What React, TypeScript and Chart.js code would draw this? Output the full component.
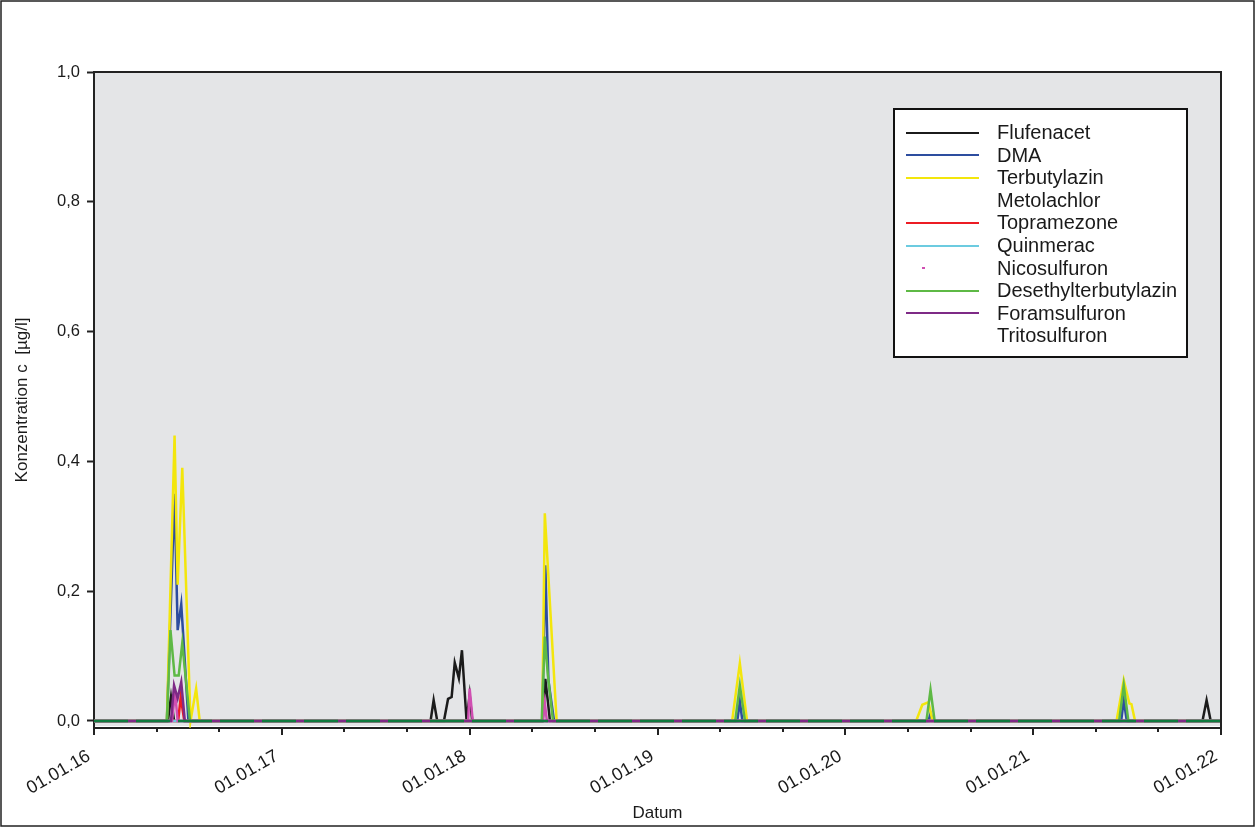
import React, { useEffect, useRef } from "react";
import { Chart, registerables } from "chart.js";

Chart.register(...registerables);

// ---------- data ----------
const xTickYears = [2016, 2017, 2018, 2019, 2020, 2021, 2022];
const xTickLabels = ["01.01.16", "01.01.17", "01.01.18", "01.01.19", "01.01.20", "01.01.21", "01.01.22"];
const yTickValues = [0, 0.2, 0.4, 0.6, 0.8, 1.0];

const flufenacetDates = ["2016-01-01", "2016-05-24", "2016-05-30", "2016-06-05", "2017-10-17", "2017-10-23", "2017-10-30", "2017-11-12", "2017-11-20", "2017-11-27", "2017-12-03", "2017-12-11", "2017-12-17", "2017-12-26", "2018-01-01", "2018-01-06", "2018-05-23", "2018-05-28", "2018-06-02", "2018-06-06", "2021-11-26", "2021-12-04", "2021-12-12", "2022-01-01"];
const flufenacetValues = [0, 0, 0.037, 0, 0, 0.032, 0, 0, 0.034, 0.037, 0.09, 0.066, 0.109, 0, 0.04, 0, 0, 0.065, 0.03, 0, 0, 0.032, 0, 0];

const dmaDates = ["2016-01-01", "2016-05-22", "2016-06-06", "2016-06-12", "2016-06-19", "2016-06-23", "2016-07-03", "2018-05-22", "2018-05-28", "2018-06-03", "2018-06-06", "2018-06-14", "2019-06-05", "2019-06-10", "2019-06-15", "2020-06-11", "2020-06-15", "2020-06-19", "2021-06-21", "2021-06-26", "2021-07-02", "2022-01-01"];
const dmaValues = [0, 0, 0.35, 0.14, 0.18, 0.13, 0, 0, 0.24, 0.063, 0.045, 0, 0, 0.03, 0, 0, 0.012, 0, 0, 0.032, 0, 0];

const terbutylazinDates = ["2016-01-01", "2016-05-22", "2016-06-06", "2016-06-12", "2016-06-21", "2016-07-07", "2016-07-18", "2016-07-25", "2018-05-22", "2018-05-27", "2018-06-19", "2019-05-26", "2019-06-10", "2019-06-24", "2020-05-18", "2020-05-30", "2020-06-11", "2020-06-19", "2021-06-12", "2021-06-26", "2021-07-07", "2021-07-11", "2021-07-18", "2022-01-01"];
const terbutylazinValues = [0, 0, 0.44, 0.21, 0.39, 0, 0.05, 0, 0, 0.32, 0, 0, 0.089, 0, 0, 0.025, 0.029, 0, 0, 0.063, 0.027, 0.026, 0, 0];

const metolachlorDates = ["2016-01-01", "2022-01-01"];
const metolachlorValues = [0, 0];

const topramezoneDates = ["2016-01-01", "2016-06-13", "2016-06-18", "2016-06-25", "2022-01-01"];
const topramezoneValues = [0, 0, 0.037, 0, 0];

const quinmeracDates = ["2016-01-01", "2022-01-01"];
const quinmeracValues = [0, 0];

const nicosulfuronDates = ["2016-01-01", "2016-06-01", "2016-06-07", "2016-06-12", "2017-12-29", "2018-01-01", "2018-01-07", "2018-05-23", "2018-05-27", "2018-05-31", "2022-01-01"];
const nicosulfuronValues = [0, 0, 0.045, 0, 0, 0.05, 0, 0, 0.028, 0, 0];

const desethylDates = ["2016-01-01", "2016-05-22", "2016-05-29", "2016-06-06", "2016-06-14", "2016-06-21", "2016-07-06", "2018-05-21", "2018-05-27", "2018-06-02", "2018-06-12", "2019-06-01", "2019-06-10", "2019-06-20", "2020-06-07", "2020-06-15", "2020-06-23", "2021-06-17", "2021-06-26", "2021-07-05", "2022-01-01"];
const desethylValues = [0, 0, 0.14, 0.07, 0.07, 0.12, 0, 0, 0.13, 0.07, 0, 0, 0.055, 0, 0, 0.048, 0, 0, 0.055, 0, 0];

const foramsulfuronDates = ["2016-01-01", "2016-05-30", "2016-06-05", "2016-06-12", "2016-06-19", "2016-06-26", "2022-01-01"];
const foramsulfuronValues = [0, 0, 0.055, 0.035, 0.06, 0, 0];

const tritosulfuronDates = ["2016-01-01", "2022-01-01"];
const tritosulfuronValues = [0, 0];

const seriesNames = ["Flufenacet", "DMA", "Terbutylazin", "Metolachlor", "Topramezone", "Quinmerac", "Nicosulfuron", "Desethylterbutylazin", "Foramsulfuron", "Tritosulfuron"];
const seriesColors = ["#1b1b1b", "#2d4d9f", "#f3e60c", "#ffffff", "#ec1c24", "#6ccbe0", "#d04fb2", "#5eb945", "#7e2a86", "#0f7a3e"];
const seriesDates = [flufenacetDates, dmaDates, terbutylazinDates, metolachlorDates, topramezoneDates, quinmeracDates, nicosulfuronDates, desethylDates, foramsulfuronDates, tritosulfuronDates];
const seriesValues = [flufenacetValues, dmaValues, terbutylazinValues, metolachlorValues, topramezoneValues, quinmeracValues, nicosulfuronValues, desethylValues, foramsulfuronValues, tritosulfuronValues];
const legendSymbols = ["line", "line", "line", "none", "line", "line", "dot", "line", "line", "none"];

// ---------- helpers ----------
function toYear(d: string): number {
  const [y, m, day] = d.split("-").map(Number);
  const start = Date.UTC(y, 0, 1);
  const end = Date.UTC(y + 1, 0, 1);
  return y + (Date.UTC(y, m - 1, day) - start) / (end - start);
}

const FONT = "'Liberation Sans', Arial, sans-serif";

export default function App() {
  const ref = useRef<HTMLCanvasElement | null>(null);

  useEffect(() => {
    document.body.style.margin = "0";
    const canvas = ref.current;
    if (!canvas) return;

    const datasets = seriesNames.map((name, i) => ({
      label: name,
      data: seriesDates[i].map((d, j) => ({ x: toYear(d), y: seriesValues[i][j] })),
      borderColor: seriesColors[i],
      backgroundColor: seriesColors[i],
      borderWidth: 2.5,
      pointRadius: 0,
      tension: 0,
      fill: false,
      order: seriesNames.length - 1 - i,
      borderDash: name === "Tritosulfuron" ? [34, 8] : [],
    }));

    const bgPlugin = {
      id: "bg",
      beforeDraw(chart: any) {
        const { ctx, chartArea } = chart;
        ctx.save();
        ctx.fillStyle = "#ffffff";
        ctx.fillRect(0, 0, chart.width, chart.height);
        ctx.fillStyle = "#e4e5e7";
        ctx.fillRect(chartArea.left, chartArea.top, chartArea.right - chartArea.left, chartArea.bottom - chartArea.top - 2);
        ctx.restore();
      },
    };

    const framePlugin = {
      id: "frame",
      afterDraw(chart: any) {
        const { ctx, chartArea } = chart;
        const xs = chart.scales.x;
        ctx.save();
        ctx.strokeStyle = "#222";
        ctx.lineWidth = 2;
        // top and right border of plot
        ctx.beginPath();
        ctx.moveTo(chartArea.left, chartArea.top);
        ctx.lineTo(chartArea.right, chartArea.top);
        ctx.lineTo(chartArea.right, chartArea.bottom);
        ctx.stroke();
        // x ticks: major at years, minor every 4 months
        for (let k = 0; k <= 18; k++) {
          const v = 2016 + k / 3;
          const px = Math.round(xs.getPixelForValue(v));
          const len = k % 3 === 0 ? 7 : 4;
          ctx.beginPath();
          ctx.moveTo(px, chartArea.bottom - 1);
          ctx.lineTo(px, chartArea.bottom + len);
          ctx.stroke();
        }
        // x tick labels, rotated
        ctx.fillStyle = "#1a1a1a";
        ctx.font = `18px ${FONT}`;
        ctx.textAlign = "right";
        ctx.textBaseline = "middle";
        xTickYears.forEach((yr, i) => {
          const px = xs.getPixelForValue(yr);
          ctx.save();
          ctx.translate(px - 5, chartArea.bottom + 27);
          ctx.rotate((-30 * Math.PI) / 180);
          ctx.fillText(xTickLabels[i], 0, 0);
          ctx.restore();
        });
        // legend
        const lx = 894, ly = 109, lw = 293, lh = 248;
        ctx.fillStyle = "#ffffff";
        ctx.fillRect(lx, ly, lw, lh);
        ctx.strokeStyle = "#111";
        ctx.lineWidth = 2;
        ctx.strokeRect(lx, ly, lw, lh);
        ctx.font = `20px ${FONT}`;
        ctx.textAlign = "left";
        ctx.textBaseline = "middle";
        seriesNames.forEach((name, i) => {
          const cy = 132.5 + i * 22.6;
          const sym = legendSymbols[i];
          if (sym === "line") {
            ctx.strokeStyle = seriesColors[i];
            ctx.lineWidth = 2;
            ctx.beginPath();
            ctx.moveTo(906, Math.round(cy));
            ctx.lineTo(979, Math.round(cy));
            ctx.stroke();
          } else if (sym === "dot") {
            ctx.fillStyle = seriesColors[i];
            ctx.fillRect(922, Math.round(cy) - 1, 3, 2);
          }
          ctx.fillStyle = "#1a1a1a";
          ctx.fillText(name, 997, cy + 1);
        });
        // outer frame
        ctx.strokeStyle = "#222";
        ctx.lineWidth = 1.5;
        ctx.strokeRect(1, 1, chart.width - 2, chart.height - 2);
        ctx.restore();
      },
    };

    const chart = new Chart(canvas, {
      type: "line",
      data: { datasets: datasets as any },
      options: {
        responsive: false,
        animation: false,
        devicePixelRatio: 1,
        layout: { padding: { left: 0, top: 72, right: 34, bottom: 0 } },
        plugins: { legend: { display: false }, tooltip: { enabled: false } },
        scales: {
          x: {
            type: "linear",
            min: 2016,
            max: 2022,
            afterFit: (s: any) => {
              s.height = 99;
            },
            afterBuildTicks: (s: any) => {
              s.ticks = xTickYears.map((v) => ({ value: v }));
            },
            ticks: { display: false },
            grid: { display: false },
            border: { display: true, color: "#222", width: 2 },
            title: {
              display: true,
              text: "Datum",
              color: "#1a1a1a",
              font: { family: FONT, size: 17 },
              padding: { top: 0, bottom: 3 },
            },
          },
          y: {
            type: "linear",
            min: -0.0108,
            max: 1.0,
            afterFit: (s: any) => {
              s.width = 94;
            },
            afterBuildTicks: (s: any) => {
              s.ticks = yTickValues.map((v) => ({ value: v }));
            },
            ticks: {
              color: "#1a1a1a",
              font: { family: FONT, size: 16.5 },
              padding: 7,
              callback: (v: any) => Number(v).toFixed(1).replace(".", ","),
            },
            grid: { drawOnChartArea: false, drawTicks: true, tickLength: 7, tickColor: "#222", tickWidth: 2 },
            border: { display: true, color: "#222", width: 2 },
            title: {
              display: true,
              text: "Konzentration c  [µg/l]",
              color: "#1a1a1a",
              font: { family: FONT, size: 17 },
              padding: { top: 12, bottom: 0 },
            },
          },
        },
      },
      plugins: [bgPlugin, framePlugin],
    });

    return () => chart.destroy();
  }, []);

  return (
    <div style={{ width: 1255, height: 827 }}>
      <canvas ref={ref} width={1255} height={827} style={{ display: "block" }} />
    </div>
  );
}
